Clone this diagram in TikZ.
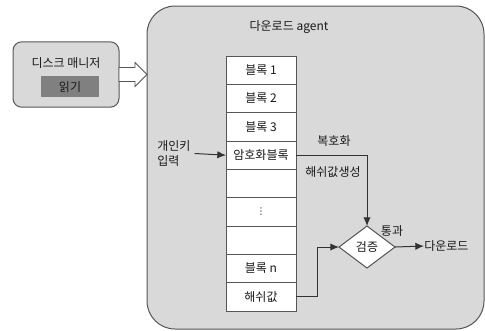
\documentclass[tikz,border=0pt]{standalone}
\usepackage{fontspec}
\setmainfont{Noto Sans CJK KR}
\newfontfamily\dotsfont{DejaVu Sans}
\usetikzlibrary{positioning,shapes.geometric,arrows.meta}
\definecolor{panelgray}{HTML}{D9D9D9}
\definecolor{edgegray}{HTML}{555555}
\definecolor{readgray}{HTML}{808080}
\begin{document}
\begin{tikzpicture}[x=0.75pt,y=-0.75pt,
 every node/.style={font=\fontsize{9}{11}\selectfont,text=black!90},
 panel/.style={draw=edgegray,fill=panelgray,line width=0.75pt,rounded corners=21pt,
   minimum width=252.75pt,minimum height=242.25pt,inner sep=0pt,outer sep=0pt},
 diskbox/.style={draw=edgegray,fill=panelgray,line width=0.75pt,rounded corners=6.5pt,
   minimum width=79.5pt,minimum height=49pt,inner sep=0pt,outer sep=0pt},
 readbox/.style={fill=readgray,minimum width=43.5pt,minimum height=15.75pt,inner sep=0pt},
 cell/.style={draw=edgegray,fill=white,line width=0.75pt,minimum width=52.5pt,
   minimum height=21.25pt,inner sep=0pt,outer sep=0pt},
 check/.style={diamond,draw=edgegray,fill=white,line width=0.75pt,minimum width=42pt,
   minimum height=31.5pt,inner sep=0pt,outer sep=0pt},
 hollow/.style={draw=edgegray,fill=white,line width=0.6pt,line join=miter},
 arr/.style={draw=black!80,line width=0.75pt,-{Latex[length=6.5pt,width=5.5pt]}},
 lbl/.style={inner sep=0pt}]
 \useasboundingbox (0,0) rectangle (485,330);
 % agent panel
 \node[panel] (agent) at (315.5,167.5) {};
 \node[lbl] (title) at (289,27) {다운로드 agent};
 % disk manager
 \node[diskbox] (disk) at (66,74.5) {};
 \node[lbl] (diskname) at (66,63) {디스크 매니저};
 \node[readbox] (read) at (70,86.5) {읽기};
 \draw[hollow] (disk.east) ++(0,-7) -- ++(16,0) -- ++(0,-5)
   -- (agent.west |- disk.east) -- ++(-12,12) -- ++(0,-5) -- ++(-16,0) -- cycle;
 % block column
 \node[cell] (b1) at (261,70.2) {블록 1};
 \node[cell,below=0pt of b1] (b2) {블록 2};
 \node[cell,below=0pt of b2] (b3) {블록 3};
 \node[cell,below=0pt of b3] (enc) {암호화블록};
 \node[cell,below=0pt of enc] (e1) {};
 \node[cell,below=0pt of e1,font=\dotsfont\fontsize{7}{8}\selectfont] (dots) {⋮};
 \node[cell,below=0pt of dots] (e2) {};
 \node[cell,below=0pt of e2] (bn) {블록 n};
 \node[cell,below=0pt of bn] (hash) {해쉬값};
 % key input
 \node[lbl,align=left,anchor=west] (key) at (157,153.5) {개인키\\입력};
 \draw[arr] ([xshift=3pt]key.east) -- (enc.west);
 % verification
 \node[check] (verify) at (367,247) {검증};
 \node[lbl] (decrypt) at (334,141) {복호화};
 \node[lbl] (hashgen) at (333,172) {해쉬값생성};
 \node[lbl] (pass) at (392,231) {통과};
 \node[lbl,anchor=west] (down) at (424,246) {다운로드};
 \draw[arr] (enc.east) -| (verify.north);
 \draw[arr] (hash.east) -- ++(21,0) |- (verify.west);
 \draw[arr] (verify.east) -- (down.west);
\end{tikzpicture}
\end{document}
